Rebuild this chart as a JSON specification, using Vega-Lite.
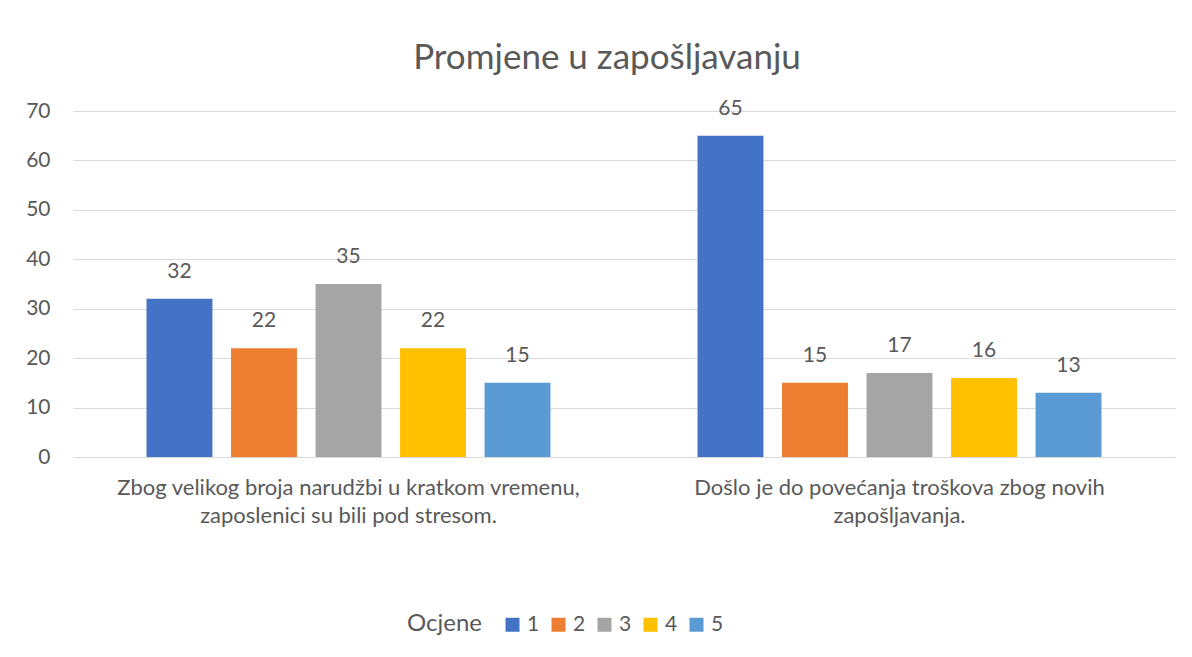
{
  "$schema": "https://vega.github.io/schema/vega-lite/v6.json",
  "width": 1102,
  "height": 346,
  "autosize": {"type": "none"},
  "padding": {"left": 73, "top": 111, "right": 17, "bottom": 200},
  "background": "white",
  "title": {
    "text": "Promjene u zapošljavanju",
    "font": "Lato",
    "fontSize": 35,
    "fontWeight": "normal",
    "color": "#595959",
    "anchor": "middle",
    "frame": "group",
    "dx": -17,
    "offset": 22
  },
  "data": {
    "values": [
      {"tvrdnja": "A", "ocjena": "1", "broj": 32},
      {"tvrdnja": "A", "ocjena": "2", "broj": 22},
      {"tvrdnja": "A", "ocjena": "3", "broj": 35},
      {"tvrdnja": "A", "ocjena": "4", "broj": 22},
      {"tvrdnja": "A", "ocjena": "5", "broj": 15},
      {"tvrdnja": "B", "ocjena": "1", "broj": 65},
      {"tvrdnja": "B", "ocjena": "2", "broj": 15},
      {"tvrdnja": "B", "ocjena": "3", "broj": 17},
      {"tvrdnja": "B", "ocjena": "4", "broj": 16},
      {"tvrdnja": "B", "ocjena": "5", "broj": 13}
    ]
  },
  "encoding": {
    "x": {
      "field": "tvrdnja",
      "type": "nominal",
      "scale": {"paddingInner": 0, "paddingOuter": 0},
      "axis": {
        "title": null,
        "labelAngle": 0,
        "domain": false,
        "ticks": false,
        "labelPadding": 20,
        "labelFont": "Lato",
        "labelFontSize": 22,
        "labelColor": "#595959",
        "labelLineHeight": 28,
        "labelLimit": 700,
        "labelExpr": "datum.value == 'A' ? ['Zbog velikog broja narudžbi u kratkom vremenu,', 'zaposlenici su bili pod stresom.'] : ['Došlo je do povećanja troškova zbog novih', 'zapošljavanja.']"
      }
    },
    "xOffset": {
      "field": "ocjena",
      "type": "nominal",
      "scale": {"paddingInner": 0.22, "paddingOuter": 0.87}
    },
    "y": {
      "field": "broj",
      "type": "quantitative",
      "scale": {"domain": [0, 70]},
      "axis": {
        "title": null,
        "values": [0, 10, 20, 30, 40, 50, 60, 70],
        "domain": false,
        "ticks": false,
        "labelPadding": 23,
        "labelFont": "Lato",
        "labelFontSize": 21,
        "labelColor": "#595959",
        "gridColor": "#d9d9d9",
        "gridWidth": 1.2
      }
    }
  },
  "layer": [
    {
      "mark": {"type": "bar"},
      "encoding": {
        "color": {
          "field": "ocjena",
          "type": "nominal",
          "scale": {
            "domain": ["1", "2", "3", "4", "5"],
            "range": ["#4472C4", "#ED7D31", "#A5A5A5", "#FFC000", "#5B9BD5"]
          },
          "legend": {
            "title": "Ocjene",
            "orient": "none",
            "direction": "horizontal",
            "legendX": 334,
            "legendY": 503,
            "titleOrient": "left",
            "titleFont": "Lato",
            "titleFontSize": 24,
            "titleFontWeight": "normal",
            "titleColor": "#595959",
            "titlePadding": 19,
            "labelFont": "Lato",
            "labelFontSize": 21,
            "labelColor": "#595959",
            "symbolType": "square",
            "symbolSize": 196,
            "symbolStrokeWidth": 0,
            "columnPadding": 8,
            "labelOffset": 4
          }
        }
      }
    },
    {
      "mark": {
        "type": "text",
        "baseline": "bottom",
        "dy": -17,
        "font": "Lato",
        "fontSize": 21,
        "color": "#595959"
      },
      "encoding": {
        "text": {"field": "broj", "type": "quantitative"}
      }
    }
  ],
  "config": {
    "view": {"stroke": null}
  }
}
